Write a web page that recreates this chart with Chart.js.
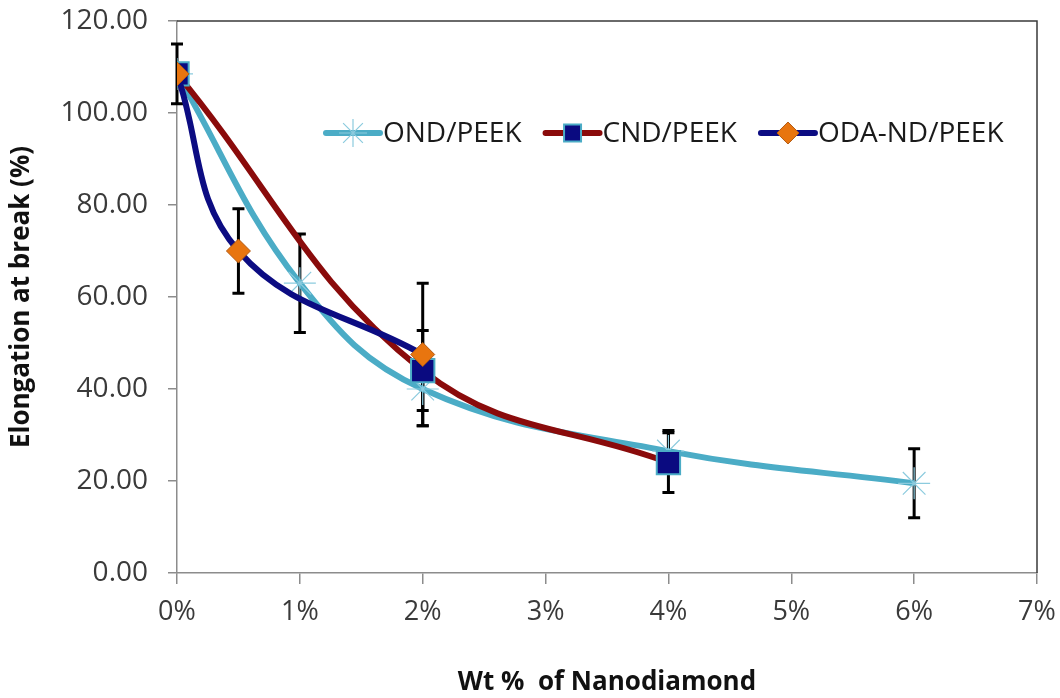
<!DOCTYPE html>
<html>
<head>
<meta charset="utf-8">
<script src="https://cdn.jsdelivr.net/npm/chart.js@4.4.1/dist/chart.umd.min.js"></script>
<style>
  html, body { margin: 0; padding: 0; background: #fff; }
</style>
</head>
<body>
<canvas id="elongationPlot" width="1060" height="698"></canvas>
<script>
// nanodiamond loading (wt %) vs elongation at break (%), error = +/- value
const ondX = [0, 1, 2, 4, 6]
const ondY = [108.5, 63, 40, 26.5, 19.5]
const ondErr = [6.5, 10.7, 8, 4.5, 7.5]

const cndX = [0, 2, 4]
const cndY = [108.5, 44, 24]
const cndErr = [null, 8.7, 6.5]

const odaX = [0, 0.5, 2]
const odaY = [108.5, 70, 47.5]
const odaErr = [null, 9.2, 15.5]

const xTickValues = [0, 1, 2, 3, 4, 5, 6, 7]
const xTickLabels = ['0%', '1%', '2%', '3%', '4%', '5%', '6%', '7%']
const yTickValues = [0, 20, 40, 60, 80, 100, 120]
const yTickLabels = ['0.00', '20.00', '40.00', '60.00', '80.00', '100.00', '120.00']

const FONT = '"Open Sans", "Noto Sans", sans-serif'
const AXIS_GREY = '#8c8c8c'

const toPoints = (xs, ys) => xs.map((x, i) => ({ x: x, y: ys[i] }))

// black I-beam error bars, drawn under the curves
const errorBars = {
    id: 'errorBars',
    beforeDatasetsDraw(chart) {
        const { ctx, scales: { x, y } } = chart
        ctx.save()
        ctx.strokeStyle = '#000'
        ctx.lineWidth = 3
        chart.data.datasets.forEach(ds => {
            if (!ds.errors) return
            ds.data.forEach((p, i) => {
                const e = ds.errors[i]
                if (e == null) return
                const px = x.getPixelForValue(p.x)
                const top = y.getPixelForValue(p.y + e)
                const bottom = y.getPixelForValue(p.y - e)
                ctx.beginPath()
                ctx.moveTo(px, top)
                ctx.lineTo(px, bottom)
                ctx.moveTo(px - 6, top)
                ctx.lineTo(px + 6, top)
                ctx.moveTo(px - 6, bottom)
                ctx.lineTo(px + 6, bottom)
                ctx.stroke()
            })
        })
        ctx.restore()
    }
}

// dark top and right edges of the plot box
const plotFrame = {
    id: 'plotFrame',
    beforeDatasetsDraw(chart) {
        const { ctx, chartArea: a } = chart
        ctx.save()
        ctx.strokeStyle = '#3a3a3a'
        ctx.lineWidth = 1.5
        ctx.beginPath()
        ctx.moveTo(a.left, a.top)
        ctx.lineTo(a.right, a.top)
        ctx.lineTo(a.right, a.bottom)
        ctx.stroke()
        ctx.restore()
    }
}

// legend sits inside the plot, one row, line + marker + name
const seriesKey = {
    id: 'seriesKey',
    afterDraw(chart) {
        const { ctx, chartArea: a } = chart
        let x0 = a.left + 146
        const yc = a.top + 112
        ctx.save()
        ctx.font = '28px ' + FONT
        ctx.textBaseline = 'middle'
        ctx.textAlign = 'left'
        chart.data.datasets.forEach(ds => {
            ctx.strokeStyle = ds.borderColor
            ctx.lineWidth = ds.borderWidth
            ctx.lineCap = 'round'
            ctx.beginPath()
            ctx.moveTo(x0 + 3, yc)
            ctx.lineTo(x0 + 57, yc)
            ctx.stroke()
            ctx.lineCap = 'butt'
            ctx.fillStyle = ds.pointBackgroundColor
            ctx.strokeStyle = ds.pointBorderColor
            ctx.lineWidth = ds.pointBorderWidth
            Chart.helpers.drawPoint(ctx, {
                pointStyle: ds.pointStyle,
                radius: ds.legendRadius,
                borderWidth: ds.pointBorderWidth,
                rotation: 0
            }, x0 + 30, yc)
            ctx.fillStyle = '#1a1a1a'
            ctx.fillText(ds.label, x0 + 60, yc + 1)
            x0 += 60 + ctx.measureText(ds.label).width + 21
        })
        ctx.restore()
    }
}

const ctx = document.getElementById('elongationPlot')
new Chart(ctx, {
    type: 'scatter',
    data: {
        datasets: [{
            label: 'OND/PEEK',
            data: toPoints(ondX, ondY),
            errors: ondErr,
            showLine: true,
            tension: 0.4,
            borderColor: '#4BACC6',
            borderWidth: 6,
            pointStyle: 'star',
            pointRadius: 16,
            legendRadius: 14,
            pointBorderColor: '#8ccbde',
            pointBackgroundColor: '#8ccbde',
            pointBorderWidth: 1.2,
            order: 3
        }, {
            label: 'CND/PEEK',
            data: toPoints(cndX, cndY),
            errors: cndErr,
            showLine: true,
            tension: 0.4,
            borderColor: '#8a0b0b',
            borderWidth: 6,
            pointStyle: 'rect',
            pointRadius: 16.5,
            legendRadius: 12,
            pointBorderColor: '#4BACC6',
            pointBackgroundColor: '#0a0a80',
            pointBorderWidth: 2,
            order: 2
        }, {
            label: 'ODA-ND/PEEK',
            data: toPoints(odaX, odaY),
            errors: odaErr,
            showLine: true,
            tension: 0.4,
            borderColor: '#0c0c82',
            borderWidth: 6,
            pointStyle: 'rectRot',
            pointRadius: 12,
            legendRadius: 11,
            pointBorderColor: '#b35a12',
            pointBackgroundColor: '#e8750f',
            pointBorderWidth: 1,
            order: 1
        }]
    },
    options: {
        responsive: false,
        animation: false,
        devicePixelRatio: 1,
        layout: { padding: { top: 21, right: 23, left: 0, bottom: 0 } },
        plugins: {
            legend: { display: false },
            tooltip: { enabled: false }
        },
        scales: {
            x: {
                type: 'linear',
                min: 0,
                max: 7,
                afterBuildTicks: s => { s.ticks = xTickValues.map(v => ({ value: v })) },
                afterFit: s => {
                    s.height = 125
                    s.paddingLeft = 0
                    s.paddingRight = 0
                },
                ticks: {
                    callback: (v, i) => xTickLabels[i],
                    font: { family: FONT, size: 27 },
                    color: '#3a3a3a',
                    padding: 12,
                    maxRotation: 0,
                    autoSkip: false
                },
                grid: { drawOnChartArea: false, tickLength: 11, color: AXIS_GREY, lineWidth: 1.5 },
                border: { color: AXIS_GREY, width: 1.5 },
                title: {
                    display: true,
                    text: 'Wt %  of Nanodiamond',
                    font: { family: FONT, size: 26, weight: 'bold' },
                    color: '#111',
                    padding: { top: 0, bottom: 0 }
                }
            },
            y: {
                min: 0,
                max: 120,
                afterBuildTicks: s => { s.ticks = yTickValues.map(v => ({ value: v })) },
                afterFit: s => {
                    s.width = 177
                    s.paddingTop = 0
                    s.paddingBottom = 0
                },
                ticks: {
                    callback: (v, i) => yTickLabels[i],
                    font: { family: FONT, size: 28 },
                    color: '#3a3a3a',
                    padding: 20
                },
                grid: { drawOnChartArea: false, tickLength: 9, color: AXIS_GREY, lineWidth: 1.5 },
                border: { color: AXIS_GREY, width: 1.5 },
                title: {
                    display: true,
                    text: 'Elongation at break (%)',
                    font: { family: FONT, size: 26, weight: 'bold' },
                    color: '#111',
                    padding: { top: 6, bottom: 0 }
                }
            }
        }
    },
    plugins: [errorBars, plotFrame, seriesKey]
})
</script>
</body>
</html>
